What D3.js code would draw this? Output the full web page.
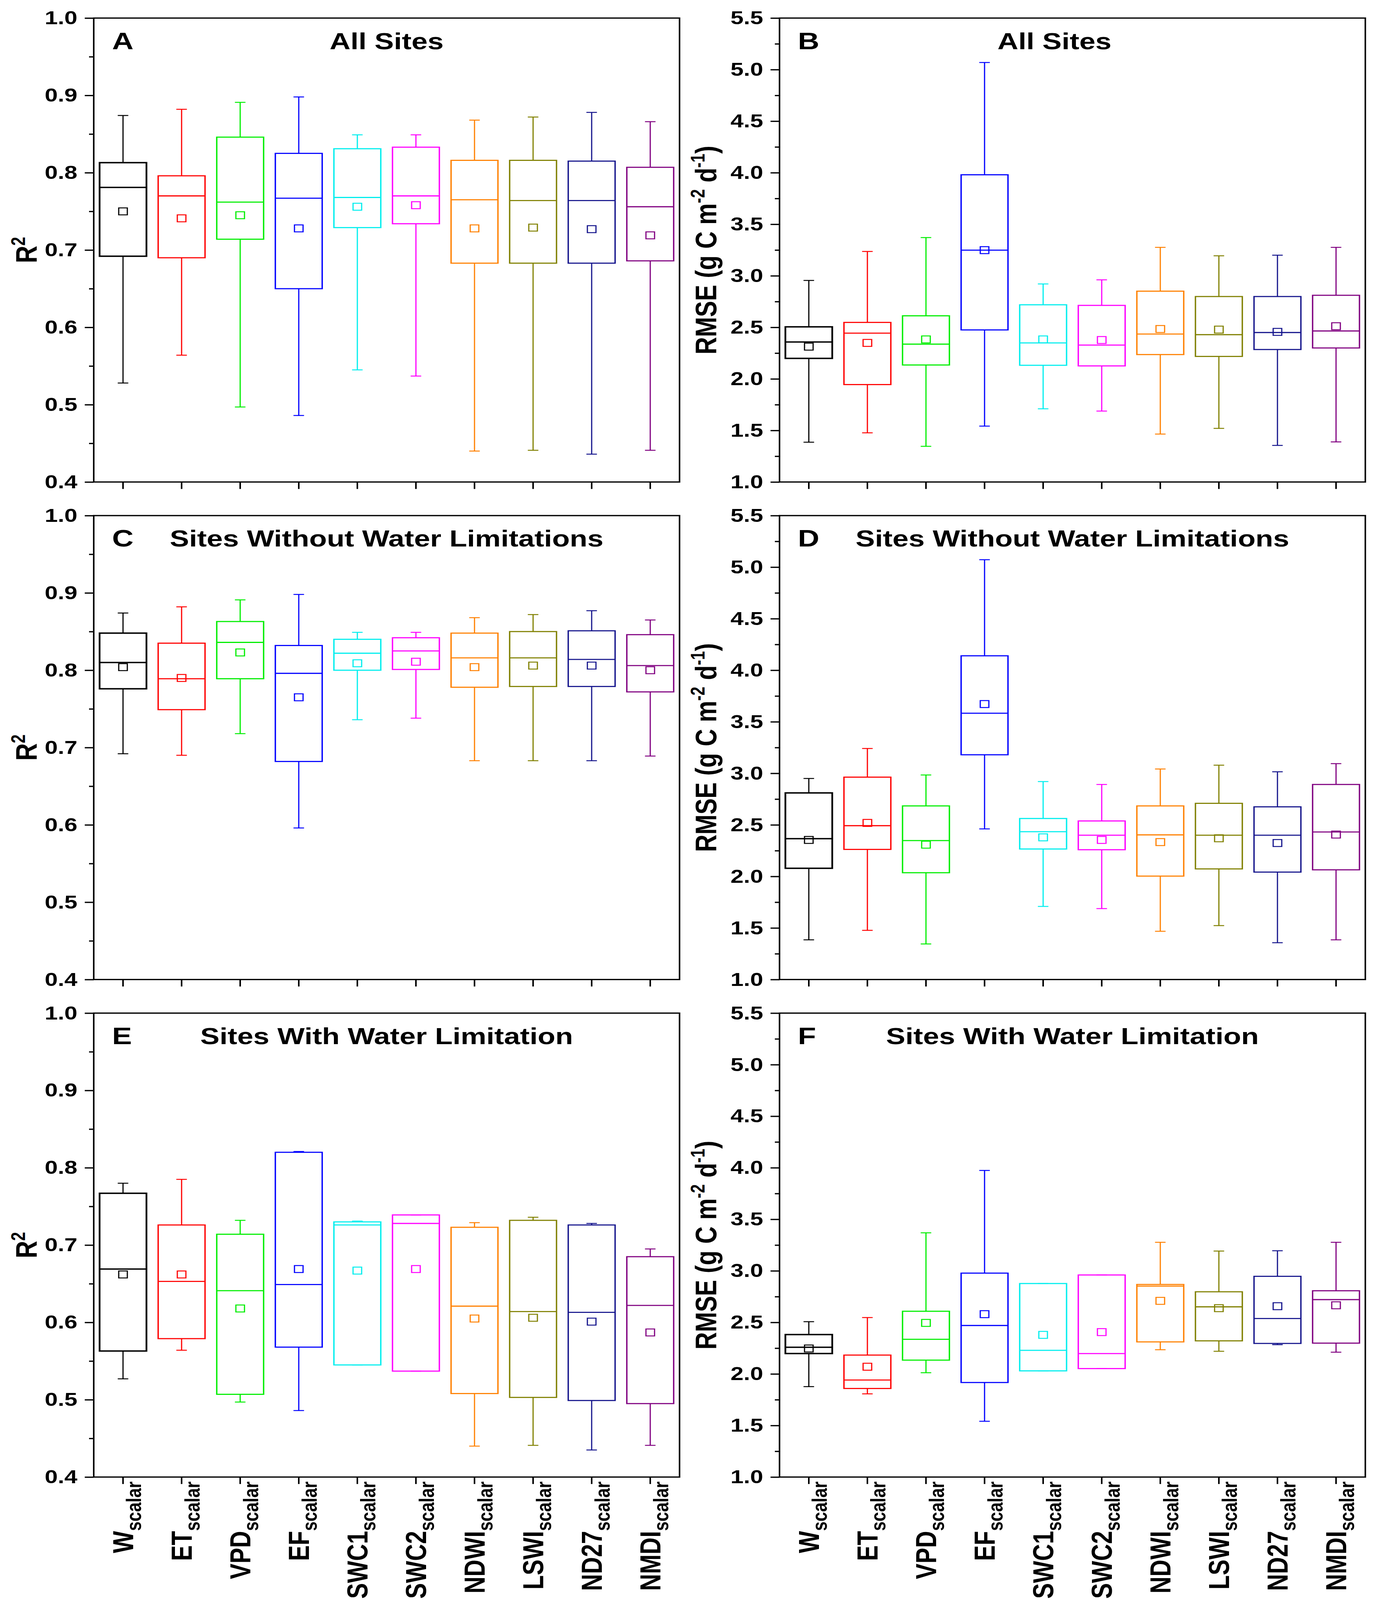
<!DOCTYPE html>
<html lang="en">
<head>
<meta charset="UTF-8">
<title>R2 and RMSE of water scalars</title>
<script src="https://d3js.org/d3.v7.min.js"></script>
<style>
  html, body { margin: 0; padding: 0; background: #fff; overflow: hidden; }
  #chart svg { display: block; width: 100vw; height: 100vh; font-family: "Liberation Sans", Arial, sans-serif; font-weight: bold; }
  .tick text { font-size: 60px; font-weight: bold; fill: #000; }
  .tick line { stroke: #000; stroke-width: 4px; }
</style>
</head>
<body>
<div id="chart"></div>
<script>
// categories (x axis) and colours of the boxes
const categories = ["W", "ET", "VPD", "EF", "SWC1", "SWC2", "NDWI", "LSWI", "ND27", "NMDI"];
const boxColors = ["#000000", "#ff0000", "#00ee00", "#0000ff", "#00eeee", "#ff00ff", "#ff8000", "#808000", "#14148c", "#800080"];

// each row: [lower whisker, Q1, median, Q3, upper whisker, mean]
const r2AllSites = [
  [0.528, 0.692, 0.781, 0.813, 0.874, 0.750],
  [0.564, 0.690, 0.770, 0.796, 0.882, 0.741],
  [0.497, 0.714, 0.762, 0.846, 0.891, 0.745],
  [0.486, 0.650, 0.767, 0.825, 0.898, 0.728],
  [0.545, 0.729, 0.768, 0.831, 0.849, 0.756],
  [0.537, 0.734, 0.770, 0.833, 0.849, 0.758],
  [0.440, 0.683, 0.765, 0.816, 0.868, 0.728],
  [0.441, 0.683, 0.764, 0.816, 0.872, 0.729],
  [0.436, 0.683, 0.764, 0.815, 0.878, 0.727],
  [0.441, 0.686, 0.756, 0.807, 0.866, 0.719]
];
const rmseAllSites = [
  [1.386, 2.199, 2.358, 2.505, 2.955, 2.313],
  [1.477, 1.945, 2.444, 2.548, 3.236, 2.349],
  [1.346, 2.135, 2.337, 2.612, 3.371, 2.383],
  [1.542, 2.475, 3.249, 3.980, 5.069, 3.249],
  [1.710, 2.132, 2.349, 2.719, 2.921, 2.383],
  [1.688, 2.126, 2.328, 2.713, 2.961, 2.377],
  [1.465, 2.236, 2.435, 2.851, 3.276, 2.484],
  [1.520, 2.218, 2.429, 2.799, 3.194, 2.478],
  [1.355, 2.285, 2.450, 2.799, 3.200, 2.456],
  [1.389, 2.300, 2.465, 2.811, 3.276, 2.511]
];
const r2NoLimit = [
  [0.692, 0.776, 0.810, 0.848, 0.874, 0.804],
  [0.690, 0.749, 0.789, 0.835, 0.882, 0.790],
  [0.718, 0.789, 0.836, 0.863, 0.891, 0.823],
  [0.596, 0.682, 0.796, 0.832, 0.898, 0.765],
  [0.736, 0.800, 0.822, 0.840, 0.849, 0.809],
  [0.738, 0.801, 0.825, 0.842, 0.849, 0.811],
  [0.683, 0.778, 0.816, 0.848, 0.868, 0.804],
  [0.683, 0.779, 0.816, 0.850, 0.872, 0.806],
  [0.683, 0.779, 0.814, 0.851, 0.877, 0.806],
  [0.689, 0.772, 0.806, 0.846, 0.865, 0.800]
];
const rmseNoLimit = [
  [1.385, 2.079, 2.366, 2.810, 2.950, 2.354],
  [1.477, 2.262, 2.492, 2.963, 3.241, 2.519],
  [1.345, 2.036, 2.348, 2.684, 2.984, 2.308],
  [2.461, 3.180, 3.583, 4.140, 5.072, 3.672],
  [1.709, 2.266, 2.434, 2.562, 2.920, 2.379],
  [1.688, 2.259, 2.400, 2.538, 2.892, 2.354],
  [1.468, 2.003, 2.403, 2.684, 3.042, 2.333],
  [1.523, 2.073, 2.400, 2.709, 3.079, 2.370],
  [1.357, 2.042, 2.400, 2.675, 3.015, 2.324],
  [1.385, 2.064, 2.431, 2.892, 3.094, 2.406]
];
const r2Limit = [
  [0.527, 0.563, 0.669, 0.767, 0.780, 0.662],
  [0.564, 0.579, 0.653, 0.726, 0.785, 0.662],
  [0.497, 0.507, 0.641, 0.714, 0.732, 0.618],
  [0.486, 0.568, 0.649, 0.820, 0.821, 0.669],
  [0.545, 0.545, 0.726, 0.730, 0.731, 0.667],
  [0.537, 0.537, 0.728, 0.739, 0.739, 0.669],
  [0.440, 0.508, 0.621, 0.723, 0.729, 0.605],
  [0.441, 0.503, 0.614, 0.732, 0.736, 0.606],
  [0.435, 0.499, 0.613, 0.726, 0.728, 0.601],
  [0.441, 0.495, 0.622, 0.685, 0.695, 0.587]
];
const rmseLimit = [
  [1.877, 2.198, 2.259, 2.382, 2.507, 2.247],
  [1.807, 1.859, 1.941, 2.183, 2.547, 2.070],
  [2.012, 2.134, 2.336, 2.608, 3.369, 2.495],
  [1.541, 1.917, 2.470, 2.978, 3.974, 2.580],
  [2.030, 2.030, 2.229, 2.877, 2.877, 2.379],
  [2.052, 2.052, 2.198, 2.960, 2.960, 2.406],
  [2.235, 2.311, 2.852, 2.868, 3.277, 2.709],
  [2.220, 2.321, 2.651, 2.797, 3.192, 2.638],
  [2.284, 2.296, 2.538, 2.947, 3.195, 2.657],
  [2.211, 2.299, 2.721, 2.807, 3.277, 2.666]
];

// axis ticks
const r2Ticks = [0.4, 0.5, 0.6, 0.7, 0.8, 0.9, 1.0];
const r2Minor = [0.45, 0.55, 0.65, 0.75, 0.85, 0.95];
const rmseTicks = [1.0, 1.5, 2.0, 2.5, 3.0, 3.5, 4.0, 4.5, 5.0, 5.5];
const rmseMinor = [1.25, 1.75, 2.25, 2.75, 3.25, 3.75, 4.25, 4.75, 5.25];

const panelTitles = ["All Sites", "Sites Without Water Limitations", "Sites With Water Limitation"];
const panelLetters = [["A", "B"], ["C", "D"], ["E", "F"]];

// layout (drawing units = reference pixels; the svg is fitted to the window)
const W = 3531, H = 5049;
const plotW = 1500, plotH = 1464;
const colX = [240, 1996];
const rowY = [57, 1627, 3197];

const svg = d3.select("#chart").append("svg")
  .attr("viewBox", `0 0 ${W} ${H}`)
  .attr("preserveAspectRatio", "none");

const rows = [[r2AllSites, rmseAllSites], [r2NoLimit, rmseNoLimit], [r2Limit, rmseLimit]];

rows.forEach((pair, r) => {
  pair.forEach((data, c) => {
    drawPanel({
      x0: colX[c], y0: rowY[r], data: data,
      isR2: c === 0,
      title: panelTitles[r],
      titleShift: (r === 0 && c === 1) ? -46 : 0,   // "All Sites" in B sits a bit left of centre
      letter: panelLetters[r][c],
      xLabels: r === 2
    });
  });
});

function drawPanel(p) {
  const g = svg.append("g");
  const x = d3.scaleBand().domain(categories).range([p.x0, p.x0 + plotW]).padding(0);
  const y = d3.scaleLinear()
    .domain(p.isR2 ? [0.4, 1.0] : [1.0, 5.5])
    .range([p.y0 + plotH, p.y0]);
  const bw = x.bandwidth();
  const boxW = bw * 0.8, capW = 27, markS = 22;

  // minor ticks
  g.append("g")
    .attr("transform", `translate(${p.x0},0)`)
    .call(d3.axisLeft(y).tickValues(p.isR2 ? r2Minor : rmseMinor).tickSize(12).tickSizeOuter(0))
    .call(a => a.select(".domain").remove())
    .call(a => a.selectAll("text").remove());

  // major ticks + labels
  g.append("g")
    .attr("transform", `translate(${p.x0},0)`)
    .call(d3.axisLeft(y).tickValues(p.isR2 ? r2Ticks : rmseTicks).tickSize(23).tickSizeOuter(0)
      .tickPadding(19).tickFormat(d3.format(".1f")))
    .call(a => a.select(".domain").remove());

  // bottom ticks
  g.append("g")
    .attr("transform", `translate(0,${p.y0 + plotH})`)
    .call(d3.axisBottom(x).tickSize(22).tickSizeOuter(0))
    .call(a => a.select(".domain").remove())
    .call(a => a.selectAll("text").remove());

  // frame
  g.append("rect")
    .attr("x", p.x0).attr("y", p.y0)
    .attr("width", plotW).attr("height", plotH)
    .attr("fill", "none").attr("stroke", "#000").attr("stroke-width", 4);

  // boxes
  const boxes = g.selectAll(".box").data(p.data).enter().append("g")
    .attr("class", "box")
    .attr("stroke", (d, i) => boxColors[i])
    .attr("fill", "none");

  const cx = (d, i) => x(categories[i]) + bw / 2;

  boxes.append("line")
    .attr("x1", cx).attr("x2", cx)
    .attr("y1", d => y(d[0])).attr("y2", d => y(d[1]))
    .attr("stroke-width", 3);
  boxes.append("line")
    .attr("x1", cx).attr("x2", cx)
    .attr("y1", d => y(d[3])).attr("y2", d => y(d[4]))
    .attr("stroke-width", 3);
  [0, 4].forEach(k => {
    boxes.append("line")
      .attr("x1", (d, i) => cx(d, i) - capW / 2).attr("x2", (d, i) => cx(d, i) + capW / 2)
      .attr("y1", d => y(d[k])).attr("y2", d => y(d[k]))
      .attr("stroke-width", 3);
  });
  boxes.append("rect")
    .attr("x", (d, i) => cx(d, i) - boxW / 2)
    .attr("y", d => y(d[3]))
    .attr("width", boxW)
    .attr("height", d => y(d[1]) - y(d[3]))
    .attr("stroke-width", (d, i) => i === 0 ? 4.5 : 3.5);
  boxes.append("line")
    .attr("x1", (d, i) => cx(d, i) - boxW / 2).attr("x2", (d, i) => cx(d, i) + boxW / 2)
    .attr("y1", d => y(d[2])).attr("y2", d => y(d[2]))
    .attr("stroke-width", (d, i) => i === 0 ? 4.5 : 3.5);
  boxes.append("rect")
    .attr("x", (d, i) => cx(d, i) - markS / 2)
    .attr("y", d => y(d[5]) - markS / 2)
    .attr("width", markS).attr("height", markS)
    .attr("stroke-width", 3);

  // letter and title
  g.append("text")
    .attr("x", p.x0 + 47).attr("y", p.y0 + 98)
    .attr("font-size", 76).text(p.letter);
  g.append("text")
    .attr("x", p.x0 + plotW / 2 + p.titleShift).attr("y", p.y0 + 98)
    .attr("text-anchor", "middle")
    .attr("font-size", 74).text(p.title);

  // y axis title
  const yt = g.append("text")
    .attr("transform", `translate(${p.x0 - (p.isR2 ? 146 : 162)},${p.y0 + plotH / 2}) rotate(-90)`)
    .attr("text-anchor", "middle")
    .attr("font-size", 76);
  if (p.isR2) {
    yt.append("tspan").text("R");
    yt.append("tspan").attr("font-size", 50).attr("dy", -30).text("2");
  } else {
    yt.append("tspan").text("RMSE (g C m");
    yt.append("tspan").attr("font-size", 50).attr("dy", -30).text("-2");
    yt.append("tspan").attr("dy", 30).text(" d");
    yt.append("tspan").attr("font-size", 50).attr("dy", -30).text("-1");
    yt.append("tspan").attr("dy", 30).text(")");
  }

  // category labels under the bottom row
  if (p.xLabels) {
    categories.forEach(cat => {
      const t = g.append("text")
        .attr("transform", `translate(${x(cat) + bw / 2 + 26},${p.y0 + plotH + 14}) rotate(-90)`)
        .attr("text-anchor", "end")
        .attr("font-size", 74);
      t.append("tspan").text(cat);
      t.append("tspan").attr("font-size", 54).attr("dy", 20).text("scalar");
    });
  }
}
</script>
</body>
</html>
